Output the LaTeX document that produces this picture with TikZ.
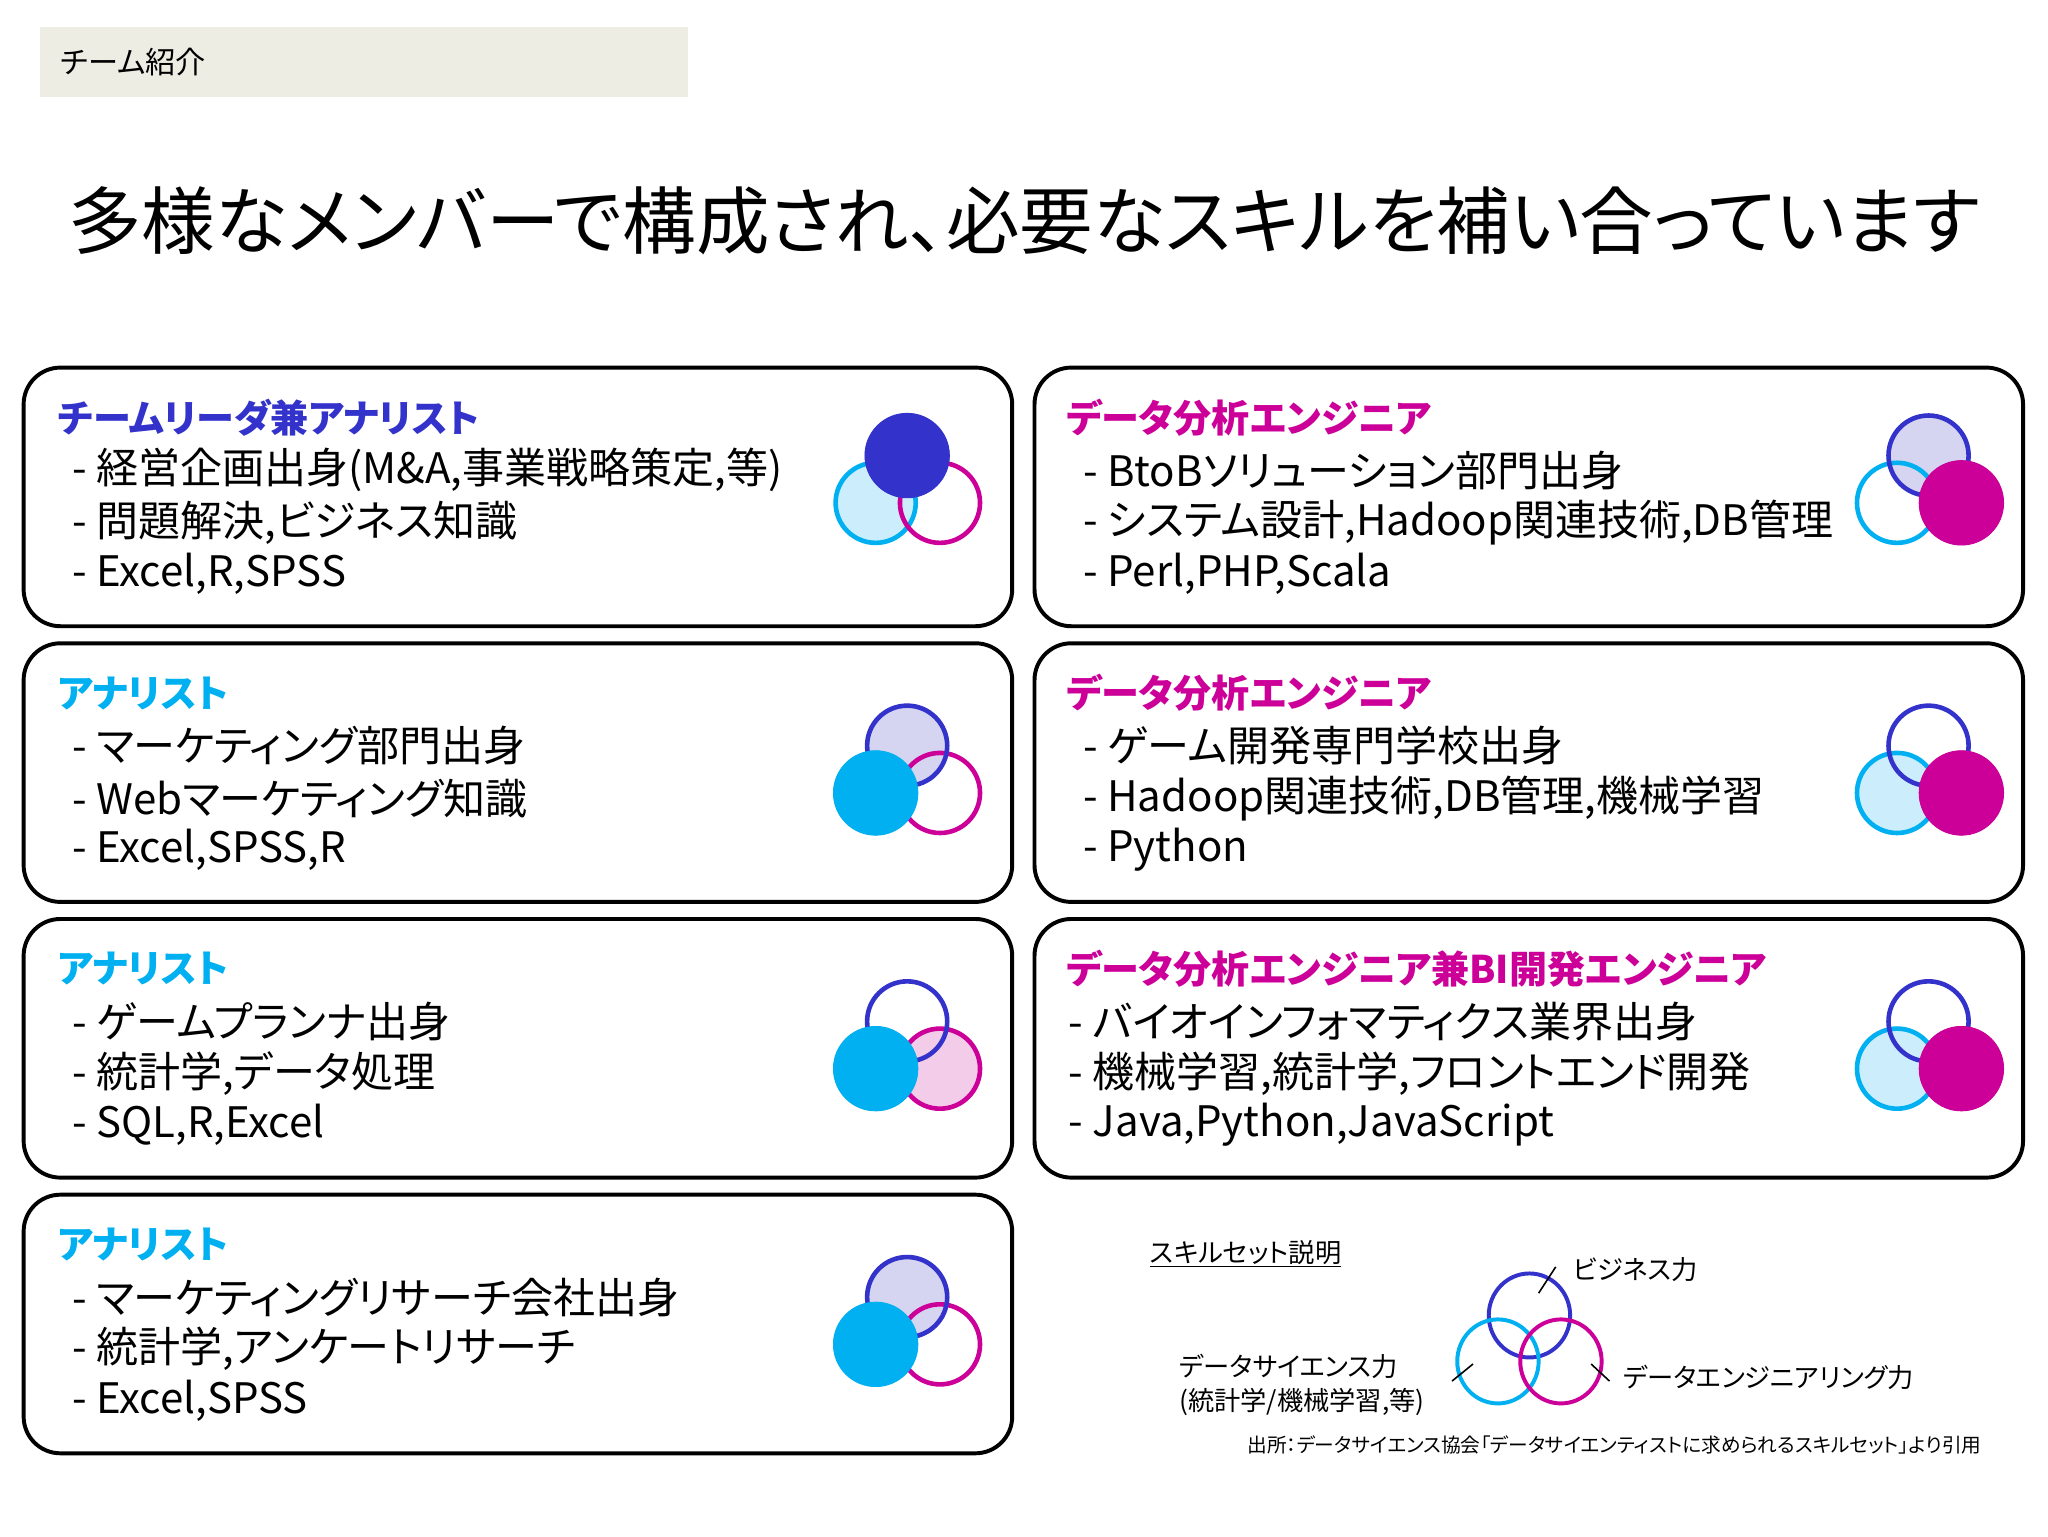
\documentclass[tikz,border=0pt]{standalone}
\usepackage{fontspec}
\setmainfont{Noto Sans CJK JP}[RawFeature=+palt]
\definecolor{cB}{HTML}{3333CC}
\definecolor{cC}{HTML}{00B0F0}
\definecolor{cM}{HTML}{CC0099}
\definecolor{lB}{HTML}{D5D5F2}
\definecolor{lC}{HTML}{CCEEFC}
\definecolor{lM}{HTML}{F2CCE8}
\definecolor{hdr}{HTML}{EEEDE3}
\tikzset{
 card/.style={draw=black,line width=3pt,rounded corners=28pt},
 ttl/.style={anchor=west,font=\fontsize{29}{30}\selectfont\bfseries,inner sep=0},
 body/.style={anchor=west,font=\fontsize{32}{33}\selectfont,inner sep=0,align=left},
 ring/.style={line width=3.5pt},
 small/.style={anchor=west,font=\fontsize{20}{22}\selectfont,inner sep=0,align=left}
}
\newcommand{\venn}[6]{%
 \begin{scope}[shift={(#1,#2)}]
 \path[fill=#3] (0,0) circle (32);
 \path[fill=#4] (-24,36) circle (32);
 \path[fill=#5] (25,36) circle (32);
 \draw[ring,cC] (-24,36) circle (30.5);
 \draw[ring,cM] (25,36) circle (30.5);
 \draw[ring,cB] (0,0) circle (30.5);
 #6
 \end{scope}}
\begin{document}
\begin{tikzpicture}[x=1pt,y=-1pt]
\path[fill=white] (0,0) rectangle (1560,1170);
\node[fill=hdr,minimum width=494pt,minimum height=54pt,anchor=north west,inner sep=0] (hd) at (30,20) {};
\node[anchor=west,font=\fontsize{23}{24}\selectfont,inner sep=0] at (46,47) {チーム紹介};
\node[font=\fontsize{56}{58}\selectfont,inner sep=0] (title) at (780,168) {多様なメンバーで構成され、必要なスキルを補い合っています};
\foreach \x in {18,788}{\foreach \y in {280,490,700}{\draw[card] (\x,\y) rectangle ++(753,197);}}
\draw[card] (18,910) rectangle ++(753,197);
\node[ttl,text=cB] at (44,318) {チームリーダ兼アナリスト};
\node[body] at (55,358) {- 経営企画出身(M\&A,事業戦略策定,等)};
\node[body] at (55,398) {- 問題解決,ビジネス知識};
\node[body] at (55,437) {- Excel,R,SPSS};
\node[ttl,text=cC] at (44,528) {アナリスト};
\node[body] at (55,568) {- マーケティング部門出身};
\node[body] at (55,608) {- Webマーケティング知識};
\node[body] at (55,647) {- Excel,SPSS,R};
\node[ttl,text=cC] at (44,738) {アナリスト};
\node[body] at (55,778) {- ゲームプランナ出身};
\node[body] at (55,818) {- 統計学,データ処理};
\node[body] at (55,857) {- SQL,R,Excel};
\node[ttl,text=cC] at (44,948) {アナリスト};
\node[body] at (55,988) {- マーケティングリサーチ会社出身};
\node[body] at (55,1027) {- 統計学,アンケートリサーチ};
\node[body] at (55,1067) {- Excel,SPSS};
\node[ttl,text=cM] at (812,318) {データ分析エンジニア};
\node[body] at (825,358) {- BtoBソリューション部門出身};
\node[body] at (825,398) {- システム設計,Hadoop関連技術,DB管理};
\node[body] at (825,437) {- Perl,PHP,Scala};
\node[ttl,text=cM] at (812,528) {データ分析エンジニア};
\node[body] at (825,568) {- ゲーム開発専門学校出身};
\node[body] at (825,608) {- Hadoop関連技術,DB管理,機械学習};
\node[body] at (825,647) {- Python};
\node[ttl,text=cM] at (812,738) {データ分析エンジニア兼BI開発エンジニア};
\node[body] at (814,778) {- バイオインフォマティクス業界出身};
\node[body] at (814,818) {- 機械学習,統計学,フロントエンド開発};
\node[body] at (814,857) {- Java,Python,JavaScript};
\venn{691}{347}{none}{lC}{none}{\fill[cB] (0,0) circle (32.5);}
\venn{691}{568}{lB}{none}{none}{\fill[cC] (-24,36) circle (32.5);}
\venn{691}{778}{none}{none}{lM}{\fill[cC] (-24,36) circle (32.5);}
\venn{691}{988}{lB}{none}{none}{\fill[cC] (-24,36) circle (32.5);}
\venn{1469}{347}{lB}{none}{none}{\fill[cM] (25,36) circle (32.5);}
\venn{1469}{568}{none}{lC}{none}{\fill[cM] (25,36) circle (32.5);}
\venn{1469}{778}{none}{lC}{none}{\fill[cM] (25,36) circle (32.5);}
\node[small] (lg) at (876,955) {\underline{スキルセット説明}};
\draw[line width=3pt,cB] (1165,1002) ellipse (31 and 32);
\draw[line width=3pt,cC] (1141,1037) ellipse (31 and 32);
\draw[line width=3pt,cM] (1189,1037) ellipse (31 and 32);
\coordinate (t1a) at (1172,985); \coordinate (t1b) at (1185,965);
\draw[line width=1.2pt] (t1a) -- (t1b);
\coordinate (t2a) at (1122,1039); \coordinate (t2b) at (1106,1052);
\draw[line width=1.2pt] (t2a) -- (t2b);
\coordinate (t3a) at (1212,1039); \coordinate (t3b) at (1226,1052);
\draw[line width=1.2pt] (t3a) -- (t3b);
\node[small] at (1198,967) {ビジネス力};
\node[small] at (898,1041) {データサイエンス力};
\node[small] at (898,1068) {(統計学/機械学習,等)};
\node[small] at (1236,1049) {データエンジニアリング力};
\node[anchor=west,font=\fontsize{15}{17}\selectfont,inner sep=0] at (950,1101) {出所：データサイエンス協会「データサイエンティストに求められるスキルセット」より引用};
\end{tikzpicture}
\end{document}
